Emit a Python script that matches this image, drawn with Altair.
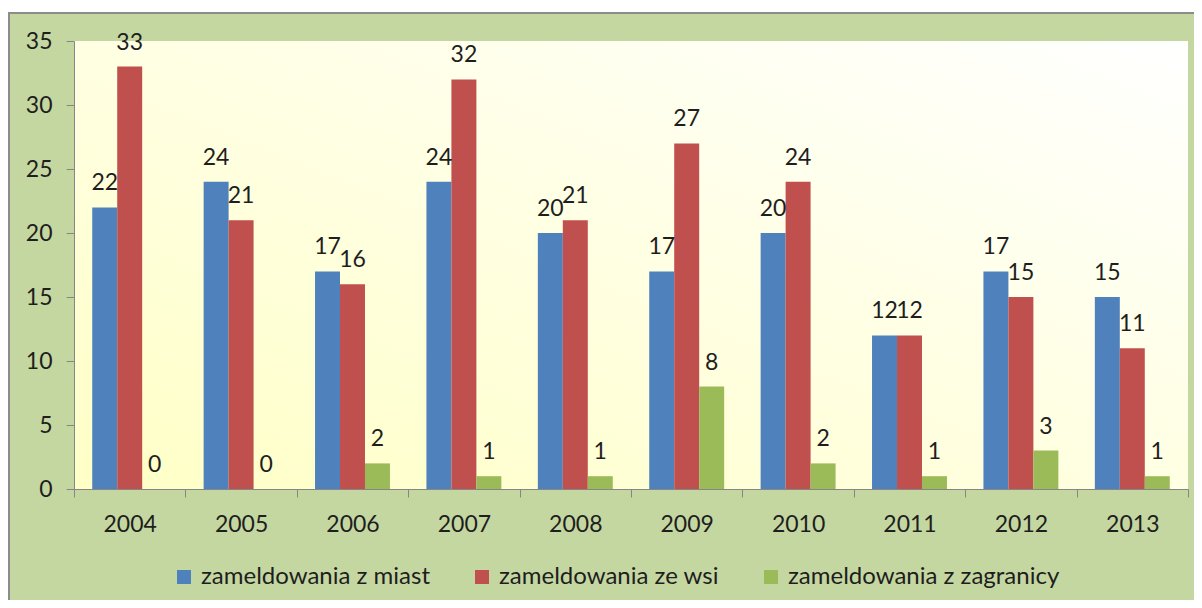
import altair as alt
import pandas as pd

years = ["2004", "2005", "2006", "2007", "2008", "2009", "2010", "2011", "2012", "2013"]
miast = [22, 24, 17, 24, 20, 17, 20, 12, 17, 15]
wsi = [33, 21, 16, 32, 21, 27, 24, 12, 15, 11]
zagranicy = [0, 0, 2, 1, 1, 8, 2, 1, 3, 1]
series = ["zameldowania z miast", "zameldowania ze wsi", "zameldowania z zagranicy"]
colors = ["#4f81bd", "#c0504d", "#9bbb59"]

rows = []
for i, yr in enumerate(years):
    for s, vals in zip(series, [miast, wsi, zagranicy]):
        rows.append({"rok": yr, "seria": s, "wartosc": vals[i]})
df = pd.DataFrame(rows)

W, H = 1114, 448
FONT = "Lato"
TXT = "#1e1e1e"
AX = "#868686"

x_enc = alt.X(
    "rok:N",
    sort=years,
    scale=alt.Scale(paddingInner=0, paddingOuter=0),
    axis=alt.Axis(
        title=None, labelAngle=0, tickBand="extent", tickSize=8, labelPadding=16,
        labelFont=FONT, labelFontSize=23, labelColor=TXT, domainColor=AX,
        tickColor=AX, zindex=1,
    ),
)
xoff = alt.XOffset("seria:N", sort=series, scale=alt.Scale(paddingInner=0, paddingOuter=0.73))
y_enc = alt.Y(
    "wartosc:Q",
    scale=alt.Scale(domain=[0, 35], nice=False),
    axis=alt.Axis(
        title=None, values=[0, 5, 10, 15, 20, 25, 30, 35], grid=False, tickSize=8,
        labelPadding=14, labelFont=FONT, labelFontSize=23, labelColor=TXT,
        domainColor=AX, tickColor=AX, zindex=1,
    ),
)

frame = alt.Chart(alt.Data(values=[{"a": 1}])).mark_rect(
    fill="#c5d7a1", stroke="#8c8c8c", strokeWidth=2
).encode(x=alt.value(-65), x2=alt.value(1140), y=alt.value(-28), y2=alt.value(620))

grad = alt.Chart(alt.Data(values=[{"a": 1}])).mark_rect(
    color=alt.Gradient(
        gradient="linear",
        stops=[alt.GradientStop(color="#ffffc6", offset=0),
               alt.GradientStop(color="#ffffff", offset=1)],
        x1=0, x2=1, y1=1, y2=0,
    )
).encode(x=alt.value(0), x2=alt.value(W), y=alt.value(0), y2=alt.value(H))

base = alt.Chart(df)
bars = base.mark_bar().encode(
    x=x_enc,
    xOffset=xoff,
    y=y_enc,
    color=alt.Color(
        "seria:N",
        scale=alt.Scale(domain=series, range=colors),
        legend=alt.Legend(
            orient="none", legendX=98, legendY=524, direction="horizontal",
            title=None, symbolType="square", symbolSize=196, symbolStrokeWidth=0,
            labelFont=FONT, labelFontSize=24, labelColor=TXT, columnPadding=40,
            labelOffset=5, labelLimit=0, padding=0, zindex=1,
        ),
    ),
)
labels = base.mark_text(dy=-24, baseline="middle", font=FONT, fontSize=23, color=TXT).encode(
    x=x_enc, xOffset=xoff, y=y_enc, text="wartosc:Q"
)

chart = alt.layer(frame, grad, bars, labels).properties(
    width=W, height=H,
    autosize=alt.AutoSizeParams(type="none"),
    padding={"left": 66, "top": 33, "right": 6, "bottom": 111},
    background="white",
).configure_view(strokeWidth=0)

chart.save("out.html", embed_options={"renderer": "svg", "actions": False})
